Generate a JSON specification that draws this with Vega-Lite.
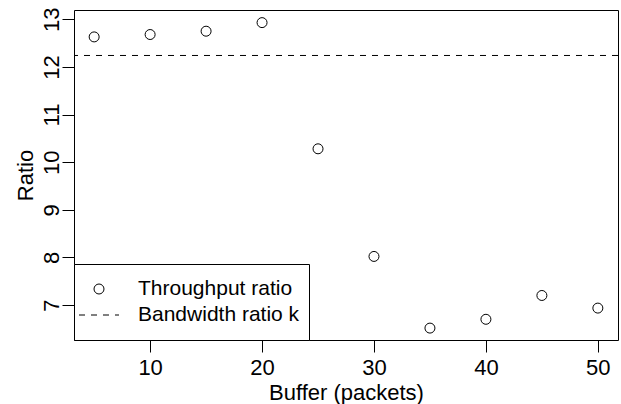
{
  "$schema": "https://vega.github.io/schema/vega-lite/v6.json",
  "width": 544,
  "height": 330,
  "autosize": {"type": "none"},
  "padding": {"left": 74, "top": 10, "right": 3, "bottom": 64},
  "background": "white",
  "config": {
    "view": {"stroke": "black", "strokeWidth": 1},
    "font": "Liberation Sans",
    "axis": {
      "domain": false,
      "grid": false,
      "tickColor": "black",
      "tickSize": 12,
      "tickWidth": 1,
      "labelColor": "black",
      "labelFont": "Liberation Sans",
      "labelFontSize": 22,
      "titleFont": "Liberation Sans",
      "titleFontSize": 22,
      "titleFontWeight": "normal",
      "titleColor": "black"
    }
  },
  "datasets": {
    "points": [
      {"buffer": 5, "ratio": 12.63, "series": "Throughput ratio"},
      {"buffer": 10, "ratio": 12.68, "series": "Throughput ratio"},
      {"buffer": 15, "ratio": 12.75, "series": "Throughput ratio"},
      {"buffer": 20, "ratio": 12.93, "series": "Throughput ratio"},
      {"buffer": 25, "ratio": 10.28, "series": "Throughput ratio"},
      {"buffer": 30, "ratio": 8.02, "series": "Throughput ratio"},
      {"buffer": 35, "ratio": 6.515, "series": "Throughput ratio"},
      {"buffer": 40, "ratio": 6.70, "series": "Throughput ratio"},
      {"buffer": 45, "ratio": 7.20, "series": "Throughput ratio"},
      {"buffer": 50, "ratio": 6.935, "series": "Throughput ratio"}
    ],
    "bandwidth": [
      {"k": 12.24}
    ]
  },
  "layer": [
    {
      "data": {"name": "bandwidth"},
      "mark": {"type": "rule", "color": "black", "strokeWidth": 1, "strokeDash": [6, 6]},
      "encoding": {
        "y": {"field": "k", "type": "quantitative", "scale": {"domain": [6.265, 13.195], "nice": false, "zero": false}}
      }
    },
    {
      "data": {"name": "points"},
      "mark": {"type": "point", "filled": false, "color": "black", "strokeWidth": 1, "size": 961, "opacity": 1},
      "encoding": {
        "x": {
          "field": "buffer",
          "type": "quantitative",
          "scale": {"domain": [3.2, 51.8], "nice": false, "zero": false},
          "axis": {
            "values": [10, 20, 30, 40, 50],
            "labelPadding": 5,
            "labelBaseline": "top",
            "title": "Buffer (packets)",
            "titleY": 59,
            "titleBaseline": "alphabetic"
          }
        },
        "y": {
          "field": "ratio",
          "type": "quantitative",
          "scale": {"domain": [6.265, 13.195], "nice": false, "zero": false},
          "axis": {
            "values": [7, 8, 9, 10, 11, 12, 13],
            "labelAngle": 270,
            "labelAlign": "center",
            "labelBaseline": "alphabetic",
            "labelPadding": 4,
            "title": "Ratio",
            "titleAngle": 270,
            "titleX": -42,
            "titleBaseline": "alphabetic"
          }
        },
        "shape": {
          "field": "series",
          "type": "nominal",
          "scale": {
            "domain": ["Throughput ratio", "Bandwidth ratio k"],
            "range": [
              "M0.3226,0A0.3226,0.3226,0,1,1,-0.3226,0A0.3226,0.3226,0,1,1,0.3226,0Z",
              "M-1.29,0H-0.903M-0.516,0H-0.129M0.258,0H0.645M1.032,0H1.29M0,0.9"
            ]
          },
          "legend": {
            "title": null,
            "orient": "bottom-left",
            "offset": 0,
            "padding": 9,
            "strokeColor": "black",
            "fillColor": "white",
            "cornerRadius": 0,
            "symbolSize": 961,
            "symbolStrokeColor": "black",
            "symbolFillColor": "transparent",
            "symbolStrokeWidth": 1,
            "symbolOffset": 0,
            "labelOffset": 23,
            "labelFont": "Liberation Sans",
            "labelFontSize": 21,
            "labelColor": "black",
            "labelLimit": 400,
            "rowPadding": 0
          }
        }
      }
    }
  ]
}
